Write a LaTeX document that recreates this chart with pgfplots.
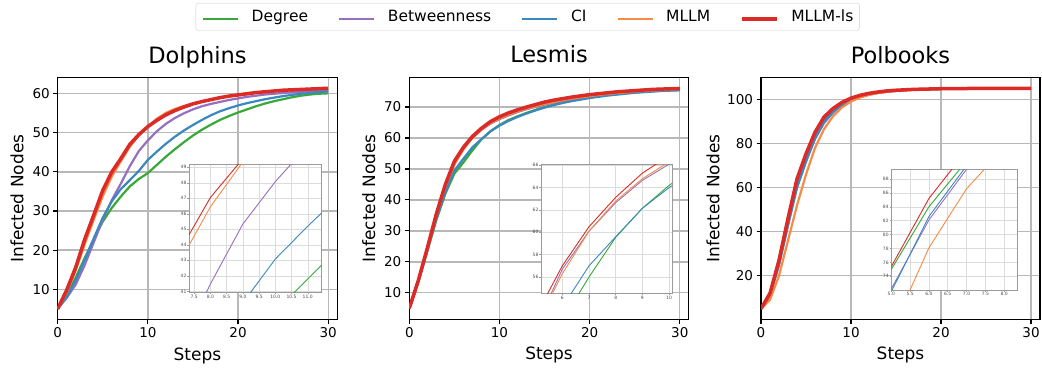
\documentclass[border=0pt]{standalone}
\usepackage{fontspec}
\setmainfont{DejaVu Sans}
\usepackage{pgfplots}
\usepackage{pgfplotstable}
\pgfplotsset{compat=1.18}
\definecolor{degc}{HTML}{38A838}
\definecolor{betc}{HTML}{9470BF}
\definecolor{cic}{HTML}{3A88C0}
\definecolor{mllmc}{HTML}{F58B45}
\definecolor{mlsc}{HTML}{DC2A26}
\definecolor{gridc}{HTML}{B8B8B8}
\definecolor{igridc}{HTML}{DCDCDC}
\definecolor{iframe}{HTML}{9A9A9A}

\pgfplotstableread{
x deg bet ci mllm mls
0 5 5 5 5 5
1 8.5 7.8 8 9.2 9.8
2 13 11.2 12.3 14.8 15.6
3 18 16.2 17.5 21.5 22.8
4 22.8 22 23 27.8 29
5 27.3 27.8 28.3 33.8 35.3
6 30.8 32.8 32.5 38.8 40.0
7 33.7 37.0 35.6 42.7 43.4
8 36.3 41.48 37.9 46.45 47.05
9 38.2 45.34 40.26 49.35 49.55
10 39.7 48.07 43.08 51.6 51.6
11 41.8 50.4 45.2 53.6 53.2
12 43.9 52.3 47.2 55.1 54.6
13 45.8 53.8 49.0 56.1 55.7
14 47.6 55.0 50.6 56.9 56.6
15 49.3 56.0 52.0 57.5 57.4
16 50.8 56.8 53.3 58.0 58.0
17 52.1 57.4 54.5 58.5 58.5
18 53.3 57.9 55.5 58.9 59.0
19 54.3 58.4 56.3 59.3 59.4
20 55.2 58.8 57.0 59.6 59.7
21 56.0 59.2 57.6 59.9 60.0
22 56.8 59.5 58.1 60.2 60.3
23 57.5 59.8 58.6 60.4 60.5
24 58.1 60.0 59.0 60.6 60.7
25 58.6 60.2 59.4 60.8 60.9
26 59.1 60.4 59.7 60.9 61.0
27 59.5 60.5 60.0 61.0 61.1
28 59.8 60.6 60.2 61.1 61.2
29 60.0 60.7 60.4 61.2 61.3
30 60.1 60.8 60.6 61.3 61.4
}\dolphins

\pgfplotstableread{
x deg bet ci mllm mls
0 5 5 5 5 5
1 13.5 13.8 13.5 13.8 14
2 23.5 24 23.5 24 24.5
3 33.5 35 34 35 35.5
4 42 44 42.5 44.3 45
5 48.5 51.5 49.5 51.5 52.5
6 52.1 56.7 53.3 56.3 57.0
7 56.0 60.1 57.0 60.1 60.5
8 59.55 62.65 59.6 62.8 63.13
9 62.15 64.65 62.15 64.8 65.3
10 64.2 66.1 64.0 66.3 66.85
11 65.8 67.3 65.5 67.5 68.1
12 67.0 68.4 66.8 68.6 69.1
13 68.1 69.3 67.9 69.5 70.0
14 69.1 70.1 68.9 70.3 70.8
15 70.0 70.8 69.8 71.0 71.6
16 70.8 71.5 70.6 71.6 72.2
17 71.5 72.0 71.3 72.2 72.7
18 72.1 72.5 71.9 72.7 73.2
19 72.6 73.0 72.4 73.1 73.6
20 73.1 73.4 72.9 73.5 74.0
21 73.5 73.8 73.3 73.9 74.3
22 73.9 74.1 73.7 74.2 74.6
23 74.2 74.4 74.0 74.5 74.9
24 74.5 74.7 74.3 74.7 75.1
25 74.7 74.9 74.6 75.0 75.3
26 74.9 75.1 74.8 75.2 75.5
27 75.1 75.3 75.0 75.4 75.7
28 75.3 75.5 75.2 75.5 75.8
29 75.4 75.6 75.3 75.7 75.9
30 75.5 75.7 75.4 75.8 76.0
}\lesmis

\pgfplotstableread{
x deg bet ci mllm mls
0 5 5 5 5 5
1 12.5 11 11 9 12
2 27.5 25 25 20 27
3 46 43 43 36 46
4 63.5 60.5 60 52 64
5 75.0 72.2 71.8 66 75.4
6 84.0 82.1 82.6 78.1 85.2
7 90.6 89.4 89.9 86.6 92.1
8 95.0 94.2 94.5 92.5 96.0
9 98.0 97.5 97.7 96.5 98.8
10 100.0 99.6 99.8 99.2 100.7
11 101.6 101.2 101.3 101.0 102.0
12 102.6 102.3 102.4 102.2 102.9
13 103.3 103.1 103.2 103.0 103.5
14 103.8 103.6 103.7 103.6 104.0
15 104.2 104.0 104.1 104.0 104.3
16 104.4 104.3 104.4 104.3 104.5
17 104.6 104.5 104.6 104.5 104.7
18 104.7 104.7 104.7 104.7 104.8
19 104.8 104.8 104.8 104.8 104.9
20 104.9 104.9 104.9 104.9 105.0
21 105.0 105.0 105.0 105.0 105.0
22 105.0 105.0 105.0 105.0 105.0
23 105.0 105.0 105.0 105.0 105.1
24 105.0 105.0 105.0 105.0 105.1
25 105.0 105.0 105.0 105.0 105.1
26 105.0 105.0 105.0 105.0 105.1
27 105.0 105.0 105.0 105.0 105.1
28 105.0 105.0 105.0 105.0 105.1
29 105.0 105.0 105.0 105.0 105.1
30 105.0 105.0 105.0 105.0 105.1
}\polbooks

\pgfplotsset{
  mainax/.style={
    scale only axis, width=279.5bp, height=242bp,
    xmin=0, xmax=31, xtick={0,10,20,30},
    axis line style={line width=1.1bp, black},
    tick align=outside, major tick length=4.5bp,
    tick style={line width=1.1bp, black},
    xtick pos=bottom, ytick pos=left,
    grid=major, major grid style={line width=1.3bp, color=gridc},
    tick label style={font=\fontsize{13.5bp}{16bp}\selectfont},
    /pgf/number format/assume math mode=true,
    xlabel=Steps, ylabel=Infected Nodes,
    label style={font=\fontsize{17bp}{20bp}\selectfont},
    title style={font=\fontsize{22.5bp}{27bp}\selectfont, at={(axis description cs:0.5,1.0347)}, anchor=base},
    xlabel style={at={(axis description cs:0.5,-0.1665)}, anchor=base},
    every axis plot/.append style={line join=round},
  },
  insax/.style={
    scale only axis,
    axis background/.style={fill=white},
    axis line style={line width=0.7bp, iframe},
    tick align=outside, major tick length=1.6bp,
    tick style={line width=0.5bp, iframe},
    xtick pos=bottom, ytick pos=left,
    grid=major, major grid style={line width=0.5bp, color=igridc},
    tick label style={font=\fontsize{4.5bp}{5bp}\selectfont, text=black!70, inner sep=0.8bp},
    /pgf/number format/assume math mode=true,
    every axis plot/.append style={line width=0.9bp},
  },
  degs/.style={degc, line width=2.2bp},
  bets/.style={betc, line width=2.2bp},
  cis/.style={cic, line width=2.2bp},
  mllms/.style={mllmc, line width=2.2bp},
  mlss/.style={mlsc, line width=3.5bp},
}

\begin{document}
\begin{tikzpicture}
\useasboundingbox (0,0) rectangle (1042bp,-369bp);

% Dolphins
\begin{axis}[mainax, at={(57.7bp,-77.7bp)}, anchor=north west,
  ymin=2.2, ymax=64.1, ytick={10,20,30,40,50,60},
  title=Dolphins,
  ylabel style={at={(axis description cs:-0.1224,0.5)}, anchor=base},
  legend columns=5,
  legend style={at={(axis description cs:0.4937,1.3087)}, anchor=north west,
    draw=black!20, rounded corners=2.5bp, fill=white,
    font=\fontsize{15.5bp}{18bp}\selectfont,
    inner xsep=6bp, inner ysep=4bp,
    nodes={inner xsep=0bp, inner ysep=3bp, anchor=base west},
    /tikz/every odd column/.append style={column sep=12.6bp},
    /tikz/every even column/.append style={column sep=30bp},
  },
  legend cell align=left,
  legend image code/.code={\draw[#1] (0bp,0.5ex) -- (35bp,0.5ex);},
]
\addplot[degs] table[x=x,y=deg]{\dolphins};\addlegendentry{Degree}
\addplot[bets] table[x=x,y=bet]{\dolphins};\addlegendentry{Betweenness}
\addplot[cis] table[x=x,y=ci]{\dolphins};\addlegendentry{CI}
\addplot[mllms] table[x=x,y=mllm]{\dolphins};\addlegendentry{MLLM}
\addplot[mlss] table[x=x,y=mls]{\dolphins};\addlegendentry{MLLM-ls}
\end{axis}

\begin{axis}[insax, at={(189bp,-164.3bp)}, anchor=north west, width=132.7bp, height=128bp,
  xmin=7.34, xmax=11.43, ymin=40.94, ymax=49.19,
  xtick={7.5,8,8.5,9,9.5,10,10.5,11}, ytick={41,...,49},
  xticklabel style={/pgf/number format/.cd, fixed, fixed zerofill, precision=1}]
\addplot[degc] table[x=x,y=deg]{\dolphins};
\addplot[betc] table[x=x,y=bet]{\dolphins};
\addplot[cic] table[x=x,y=ci]{\dolphins};
\addplot[mllmc] table[x=x,y=mllm]{\dolphins};
\addplot[mlsc] table[x=x,y=mls]{\dolphins};
\end{axis}

% Lesmis
\begin{axis}[mainax, at={(409.3bp,-77.3bp)}, anchor=north west,
  ymin=1.45, ymax=79.6, ytick={10,20,30,40,50,60,70},
  title=Lesmis,
  ylabel style={at={(axis description cs:-0.1227,0.5)}, anchor=base}]
\addplot[degs] table[x=x,y=deg]{\lesmis};
\addplot[bets] table[x=x,y=bet]{\lesmis};
\addplot[cis] table[x=x,y=ci]{\lesmis};
\addplot[mllms] table[x=x,y=mllm]{\lesmis};
\addplot[mlss] table[x=x,y=mls]{\lesmis};
\end{axis}

\begin{axis}[insax, at={(541bp,-164.7bp)}, anchor=north west, width=131.3bp, height=128.6bp,
  xmin=5.2, xmax=10.12, ymin=54.54, ymax=66.05,
  xtick={6,7,8,9,10}, ytick={56,58,60,62,64,66}]
\addplot[degc] table[x=x,y=deg]{\lesmis};
\addplot[betc] table[x=x,y=bet]{\lesmis};
\addplot[cic] table[x=x,y=ci]{\lesmis};
\addplot[mllmc] table[x=x,y=mllm]{\lesmis};
\addplot[mlsc] table[x=x,y=mls]{\lesmis};
\end{axis}

% Polbooks
\begin{axis}[mainax, at={(761bp,-77.7bp)}, anchor=north west, width=279bp,
  ymin=0, ymax=110, ytick={20,40,60,80,100},
  title=Polbooks,
  ylabel style={at={(axis description cs:-0.1495,0.5)}, anchor=base}]
\addplot[degs] table[x=x,y=deg]{\polbooks};
\addplot[bets] table[x=x,y=bet]{\polbooks};
\addplot[cis] table[x=x,y=ci]{\polbooks};
\addplot[mllms] table[x=x,y=mllm]{\polbooks};
\addplot[mlss] table[x=x,y=mls]{\polbooks};
\end{axis}

\begin{axis}[insax, at={(891.3bp,-169.3bp)}, anchor=north west, width=126bp, height=120.7bp,
  xmin=5.0, xmax=8.35, ymin=72.03, ymax=89.4,
  xtick={5,5.5,6,6.5,7,7.5,8}, ytick={74,76,...,88},
  xticklabel style={/pgf/number format/.cd, fixed, fixed zerofill, precision=1}]
\addplot[degc] table[x=x,y=deg]{\polbooks};
\addplot[betc] table[x=x,y=bet]{\polbooks};
\addplot[cic] table[x=x,y=ci]{\polbooks};
\addplot[mllmc] table[x=x,y=mllm]{\polbooks};
\addplot[mlsc] table[x=x,y=mls]{\polbooks};
\end{axis}
\end{tikzpicture}
\end{document}
